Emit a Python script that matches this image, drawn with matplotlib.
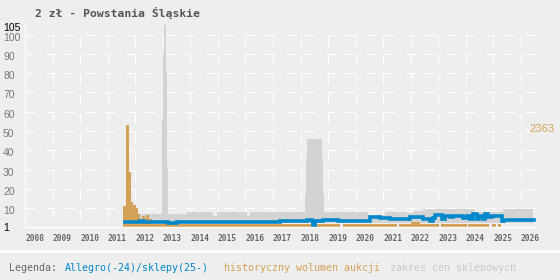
import numpy as np
import matplotlib as mpl
import matplotlib.pyplot as plt
import matplotlib.transforms as mtransforms

mpl.rcParams['lines.scale_dashes'] = False

# ---- data (dates in fractional years) ----
years = list(range(2008, 2027))
y_ticks = [1, 10, 20, 30, 40, 50, 60, 70, 80, 90, 100, 105]

# shop price range (step, post)
gray_t = [2012.17, 2012.967, 2013.015, 2013.051, 2013.102, 2013.149, 2013.185,
          2013.86, 2014.82, 2014.95, 2016.04, 2016.16, 2018.15, 2018.19, 2018.23,
          2018.79, 2018.83, 2018.85, 2020.46, 2020.53, 2020.64, 2021.07, 2021.86,
          2022.09, 2022.45, 2024.34, 2025.36, 2026.45]
gray_hi = [6.9, 55.6, 90, 110, 80.8, 31.5, 6.9,
           7.9, 5.9, 7.9, 5.9, 7.9, 17.3, 35.8, 45.8,
           35.8, 17.3, 8.1, 6.4, 5.9, 6.4, 8.1, 7.3,
           8.6, 9.3, 7.8, 9.3, 9.3]
gray_lo = 2.4

# auction volume histogram (edges + heights)
vol_edges = [2011.539, 2011.659, 2011.779, 2011.841, 2011.913, 2012.023, 2012.095,
             2012.168, 2012.241, 2012.350, 2012.386, 2012.495, 2012.604,
             2019.44, 2019.56, 2021.52, 2021.58, 2022.0, 2022.35, 2023.04,
             2023.10, 2024.04, 2024.10, 2024.86, 2024.95, 2025.10, 2025.18, 2025.27]
vol_vals = [11, 53, 28.7, 13, 11.6, 9.9, 6.9,
            3.0, 5.9, 2.2, 6.4, 4.3,
            1.9, 0, 1.9, 0, 1.9, 2.6, 1.9, 0,
            1.9, 0, 1.9, 0, 1.9, 0, 1.9]
vol_max_label = '2363'

# Allegro / shop price (step, post)
price_t = [2011.62, 2012.17, 2012.31, 2013.2, 2013.5, 2014.0, 2014.5, 2015.0, 2015.6,
           2016.2, 2016.7, 2017.0, 2017.25, 2018.23, 2018.41, 2018.44, 2018.53,
           2018.82, 2019.36, 2019.80, 2020.53, 2020.89, 2021.25, 2021.98, 2022.34,
           2022.45, 2022.71, 2022.82, 2022.89, 2023.13, 2023.25, 2023.43, 2023.55,
           2023.92, 2024.04, 2024.16, 2024.28, 2024.40, 2024.50, 2024.62, 2024.70,
           2024.82, 2024.95, 2025.31, 2025.39, 2026.48]
price_v = [2.6, 3.1, 2.6, 2.4, 2.7, 2.5, 2.8, 2.6, 2.9,
           2.7, 3.0, 2.9, 3.1, 3.8, 3.1, 0.6, 3.1,
           4.0, 3.1, 3.5, 5.6, 4.8, 4.5, 5.5, 5.2,
           4.5, 3.3, 4.8, 6.5, 4.1, 6.1, 5.2, 5.9,
           4.8, 5.9, 4.5, 6.9, 4.1, 6.1, 4.1, 6.7,
           5.4, 5.8, 3.3, 4.0, 4.0]

BG = '#eeeeee'
BLUE = '#0088cc'
ORANGE = '#d4a257'
BAND = '#d3d3d3'

W, H = 560, 280
fig = plt.figure(figsize=(W / 100, H / 100), dpi=100, facecolor=BG)
ax = fig.add_axes([25.3 / W, 52.7 / H, (536 - 25.3) / W, (227.3 - 25) / H])
ax.set_xlim(2008, 2026.557)
ax.set_ylim(0, 105)
ax.set_axis_off()

# grid
for v in range(10, 101, 10):
    ax.axhline(v, color='white', lw=0.8, dashes=(7.2, 7.2), zorder=1)
for yr in years[1:]:
    ax.plot([yr, yr], [100, 0], color='white', lw=0.8, dashes=(7.9, 5.95), zorder=1)

# data
ax.fill_between(gray_t, gray_lo, gray_hi, step='post', color=BAND, lw=0, zorder=2)
ax.stairs(vol_vals, vol_edges, fill=True, color=ORANGE, lw=0, zorder=3)
ax.step(price_t, price_v, where='post', color=BLUE, lw=2.6, zorder=4,
        solid_joinstyle='miter')

# axis lines
ax.axvline(2008, color='white', lw=0.8, zorder=5, clip_on=False)
ax.axhline(0, color='white', lw=1.0, zorder=5, clip_on=False)

# y labels
ytrans = mtransforms.blended_transform_factory(fig.transFigure, ax.transData) + \
    mtransforms.ScaledTranslation(0, -3 / 100, fig.dpi_scale_trans)
for v in y_ticks:
    col = 'black' if v in (1, 105) else '#777777'
    ax.text(3 / W, v, str(v), transform=ytrans, ha='left', va='center',
            fontsize=7.5, family='Liberation Sans', color=col, clip_on=False)

# x labels
xtrans = mtransforms.blended_transform_factory(ax.transData, ax.transAxes) + \
    mtransforms.ScaledTranslation(0, -11.4 / 100, fig.dpi_scale_trans)
for yr in years:
    ax.text(yr, 0, str(yr), transform=xtrans, ha='left', va='center',
            fontsize=5.7, family='DejaVu Sans Mono', weight='bold',
            color='#666666', clip_on=False)

ax.text(0.988, 51, vol_max_label, transform=mtransforms.blended_transform_factory(ax.transAxes, ax.transData),
        ha='left', va='center', fontsize=8, family='Liberation Sans', color=ORANGE, clip_on=False)

# title
fig.text(35 / W, 1 - 12.7 / H, '2 zł - Powstania Śląskie', ha='left', va='center',
         fontsize=8.2, family='DejaVu Sans Mono', weight='bold', color='#555555')

# separator + legend
fig.add_artist(plt.Rectangle((0, 1 - 253 / H), 1, 3 / H, transform=fig.transFigure,
                             color='white', lw=0))
ly = 1 - 267.7 / H
for x0, txt, col in [(9.3, 'Legenda:', '#666666'),
                     (65, 'Allegro(-24)/sklepy(25-)', BLUE),
                     (224, 'historyczny wolumen aukcji', ORANGE),
                     (390, 'zakres cen sklepowych', '#c8c8c8')]:
    fig.text(x0 / W, ly, txt, ha='left', va='center', fontsize=7.2,
             family='DejaVu Sans Mono', color=col)

fig.savefig('out.png', dpi=100, facecolor=BG)
